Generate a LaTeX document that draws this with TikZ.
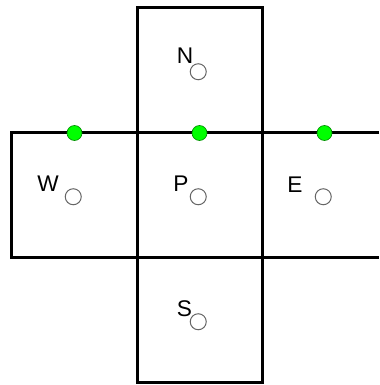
\documentclass[tikz,border=0pt]{standalone}
\usepackage{fontspec}
\setmainfont{Liberation Sans}

\newcommand*{\xmin}{-0.096}
\newcommand*{\xmax}{2.936}
\newcommand*{\ymin}{-0.016}
\newcommand*{\ymax}{3.064}

\begin{document}
\begin{tikzpicture}
[
	x=93.75pt, y=93.75pt,
	wall/.style={line width=2.25pt,black},
	centrept/.style={circle,draw=black!60,line width=0.75pt,fill=white,inner sep=0pt,minimum size=12pt},
	facept/.style={circle,draw=green!55!black,line width=0.5pt,fill=green,inner sep=0pt,minimum size=11.25pt},
	lbl/.style={inner sep=0pt,font=\fontsize{17}{20}\selectfont}
]

	\useasboundingbox (\xmin,\ymin) rectangle (\xmax,\ymax);

	% cells
	\draw[wall] (\xmax,2) -- (0,2) -- (0,1) -- (\xmax,1);
	\draw[wall] (1,0) -- (1,3) -- (2,3) -- (2,0) -- cycle;

	% cell centres
	\node[centrept] (W) at (0.49,1.49) {};
	\node[centrept] (P) at (1.49,1.49) {};
	\node[centrept] (E) at (2.49,1.49) {};
	\node[centrept] (N) at (1.49,2.49) {};
	\node[centrept] (S) at (1.49,0.49) {};

	% labels
	\node[lbl] (Wlbl) at (0.288,1.592) {W};
	\node[lbl] (Plbl) at (1.352,1.592) {P};
	\node[lbl] (Elbl) at (2.264,1.584) {E};
	\node[lbl] (Nlbl) at (1.384,2.616) {N};
	\node[lbl] (Slbl) at (1.380,0.592) {S};

	% face points
	\node[facept] (nw) at (0.5,2) {};
	\node[facept] (np) at (1.5,2) {};
	\node[facept] (ne) at (2.5,2) {};

\end{tikzpicture}
\end{document}
